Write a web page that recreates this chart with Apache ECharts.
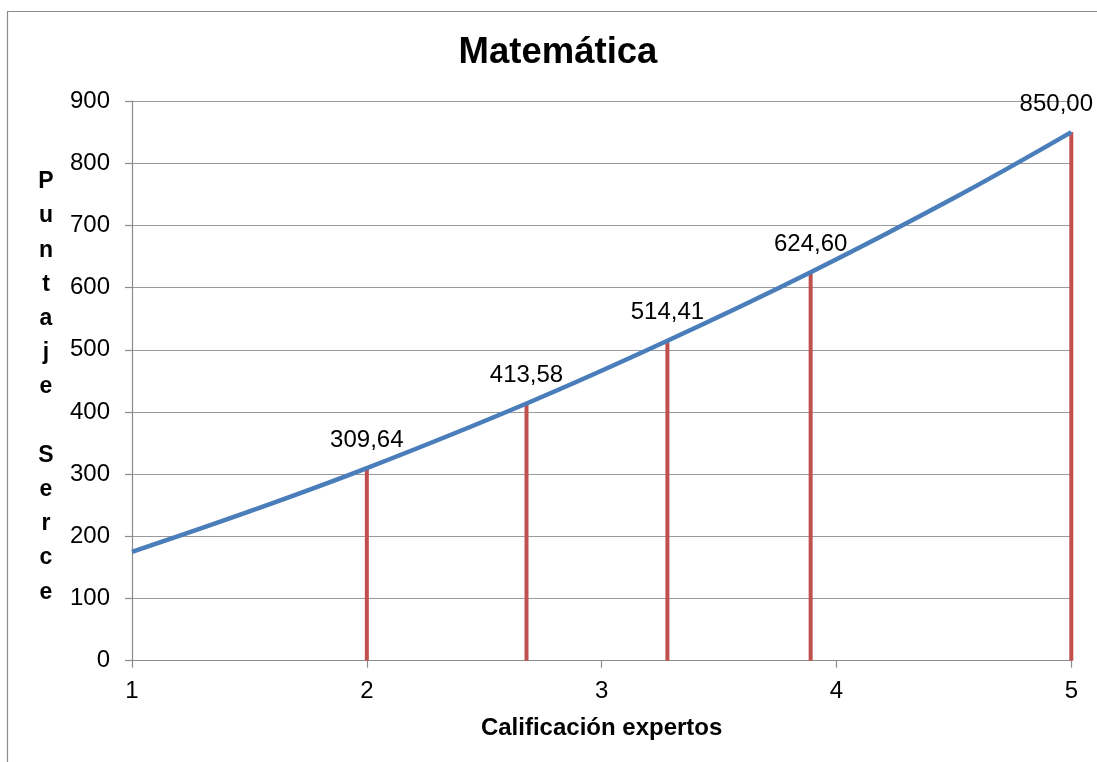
<!DOCTYPE html>
<html>
<head>
<meta charset="utf-8">
<script src="https://cdn.jsdelivr.net/npm/echarts@6/dist/echarts.min.js"></script>
<style>
html,body{margin:0;padding:0;background:#fff;}
#c{width:1097px;height:762px;}
</style>
</head>
<body>
<div id="c"></div>
<script>
// Blue curve: points
var curveX = [1, 1.5, 2, 2.68, 3.28, 3.89, 4.5, 5];
var curveY = [175, 240, 309.64, 413.58, 514.41, 624.60, 744, 850];
// Red vertical lines with labels
var stemX = [2, 2.68, 3.28, 3.89, 5];
var stemY = [309.64, 413.58, 514.41, 624.60, 850.00];
var titleText = 'Matemática';
var xName = 'Calificación expertos';
var yName = 'P\nu\nn\nt\na\nj\ne\n\nS\ne\nr\nc\ne';

var FONT = 'Liberation Sans, Arial, sans-serif';
var chart = echarts.init(document.getElementById('c'), null, {renderer: 'canvas'});

var curveData = curveX.map(function (x, i) { return [x, curveY[i]]; });
var stemData = stemX.map(function (x, i) {
  var item = {value: [x, stemY[i]]};
  if (i === stemX.length - 1) item.label = {offset: [-15, 0]};
  return item;
});

chart.setOption({
  animation: false,
  backgroundColor: '#ffffff',
  title: {
    text: titleText,
    left: 553, top: 29, textAlign: 'center',
    textStyle: {fontFamily: FONT, fontWeight: 'bold', fontSize: 36.5, color: '#000'}
  },
  graphic: [
    {type: 'rect', shape: {x: 7.5, y: 11.5, width: 1200, height: 1000},
     style: {fill: 'none', stroke: '#8c8c8c', lineWidth: 1.2}, silent: true},
    {type: 'text', x: 46, y: 387,
     style: {text: yName, fontFamily: FONT, fontWeight: 'bold', fontSize: 23,
             lineHeight: 34.2, fill: '#000', align: 'center', verticalAlign: 'middle'}}
  ],
  grid: {left: 132, right: 25.7, top: 101, bottom: 101.3, containLabel: false},
  xAxis: {
    type: 'value', min: 1, max: 5, interval: 1,
    name: xName, nameLocation: 'middle', nameGap: 56,
    nameTextStyle: {fontFamily: FONT, fontWeight: 'bold', fontSize: 24, color: '#000'},
    axisLine: {show: true, lineStyle: {color: '#8c8c8c', width: 1.2}},
    axisTick: {show: true, length: 7, lineStyle: {color: '#8c8c8c', width: 1.2}},
    axisLabel: {fontFamily: FONT, fontSize: 24, color: '#000', margin: 19},
    splitLine: {show: false}
  },
  yAxis: {
    type: 'value', min: 0, max: 900, interval: 100,
    axisLine: {show: true, lineStyle: {color: '#8c8c8c', width: 1.2}},
    axisTick: {show: true, length: 7, lineStyle: {color: '#8c8c8c', width: 1.2}},
    axisLabel: {fontFamily: FONT, fontSize: 24, color: '#000', margin: 22},
    splitLine: {show: true, lineStyle: {color: '#9a9a9a', width: 1.2}}
  },
  series: [
    {
      type: 'bar', data: stemData, barWidth: 4, z: 2,
      itemStyle: {color: '#C0504D'},
      label: {
        show: true, position: 'top', distance: 16,
        fontFamily: FONT, fontSize: 24, color: '#000',
        formatter: function (p) { return p.value[1].toFixed(2).replace('.', ','); }
      }
    },
    {
      type: 'line', data: curveData, smooth: 0.4, showSymbol: false, z: 3,
      lineStyle: {color: '#4A7EBB', width: 4.5}
    }
  ]
});
</script>
</body>
</html>
